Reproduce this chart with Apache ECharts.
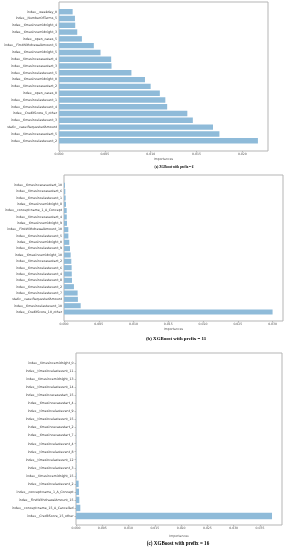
<!DOCTYPE html>
<html>
<head>
<meta charset="utf-8">
<script src="https://cdn.jsdelivr.net/npm/echarts@6/dist/echarts.min.js"></script>
<style>
html,body{margin:0;padding:0;background:#fff;}
#c{width:287px;height:550px;}
</style>
</head>
<body>
<div id="c"></div>
<script>
// ---------- DATA ----------
const labelsA = [
  'index__weekday_0','index__NumberOfTerms_5','index__timesincemidnight_4','index__timesincemidnight_3',
  'index__open_cases_5','index__FirstWithdrawalAmount_5','index__timesincemidnight_5','index__timesincecasestart_4',
  'index__timesincecasestart_3','index__timesincelastevent_5','index__timesincemidnight_0','index__timesincecasestart_2',
  'index__open_cases_0','index__timesincelastevent_1','index__timesincelastevent_4','index__CreditScore_5_other',
  'index__timesincelastevent_3','static__case:RequestedAmount','index__timesincecasestart_5','index__timesincelastevent_2'
];
const valuesA = [0.00149,0.00174,0.00177,0.00199,0.0025,0.0038,0.00453,0.00569,0.00573,0.0079,
  0.00938,0.0100,0.0110,0.0116,0.0118,0.0140,0.0146,0.0168,0.0175,0.0217];
const ticksA = [0,0.005,0.010,0.015,0.020];

const labelsB = [
  'index__timesincecasestart_10','index__timesincecasestart_6','index__timesincelastevent_1','index__timesincemidnight_8',
  'index__concept:name_1_A_Concept','index__timesincecasestart_4','index__timesincemidnight_9','index__FirstWithdrawalAmount_10',
  'index__timesincelastevent_5','index__timesincemidnight_0','index__timesincelastevent_9','index__timesincemidnight_10',
  'index__timesincecasestart_2','index__timesincelastevent_6','index__timesincelastevent_4','index__timesincelastevent_8',
  'index__timesincelastevent_2','index__timesincelastevent_7','static__case:RequestedAmount','index__timesincelastevent_10',
  'index__CreditScore_10_other'
];
const valuesB = [0.00014,0.00019,0.00024,0.00029,0.00039,0.0004,0.00043,0.00062,0.00063,0.00076,
  0.00086,0.00096,0.00105,0.0011,0.00112,0.00115,0.00143,0.00196,0.0020,0.0024,0.0300];
const ticksB = [0,0.005,0.010,0.015,0.020,0.025,0.030];

const labelsC = [
  'index__timesincemidnight_0','index__timesincelastevent_11','index__timesincemidnight_13','index__timesincelastevent_14',
  'index__timesincecasestart_15','index__timesincecasestart_4','index__timesincelastevent_9','index__timesincelastevent_15',
  'index__timesincecasestart_2','index__timesincecasestart_7','index__timesincelastevent_4','index__timesincelastevent_8',
  'index__timesincelastevent_12','index__timesincelastevent_3','index__timesincemidnight_15','index__timesincelastevent_2',
  'index__concept:name_1_A_Concept','index__FirstWithdrawalAmount_15','index__concept:name_15_A_Cancelled','index__CreditScore_15_other'
];
const valuesC = [0.00001,0.00001,0.00001,0.00002,0.00002,0.00002,0.00002,0.00003,0.00003,0.00003,
  0.00004,0.00004,0.00006,0.00006,0.0001,0.0005,0.00057,0.00063,0.00082,0.0373];
const ticksC = [0,0.005,0.010,0.015,0.020,0.025,0.030,0.035];

const titles = ['(a) XGBoost with prefix = 6','(b) XGBoost with prefix = 11','(c) XGBoost with prefix = 16'];

// ---------- LAYOUT ----------
const H = 550, W = 287;
const panels = [
  {labels:labelsA, values:valuesA, ticks:ticksA, max:0.0228,
   box:{top:2,bottom:151,left:59,right:268}, inner:{top:8.3,bottom:144.1},
   title:{x:174,y:168,size:3.3}, nameGap:6.5, yTicks:false},
  {labels:labelsB, values:valuesB, ticks:ticksB, max:0.0315,
   box:{top:175,bottom:321,left:64,right:283}, inner:{top:182.1,bottom:315.2},
   title:{x:176,y:339,size:4.9}, nameGap:7, yTicks:false},
  {labels:labelsC, values:valuesC, ticks:ticksC, max:0.0392,
   box:{top:353,bottom:525,left:76,right:282}, inner:{top:359.3,bottom:520},
   title:{x:178,y:544,size:5.1}, nameGap:10, yTicks:true}
];

const grid=[], xAxis=[], yAxis=[], series=[], title=[];
const barColor = '#8fbbd9', boxColor = '#b5b5b5', txt = '#333';
panels.forEach((p,i)=>{
  const g0 = grid.length;
  grid.push({left:p.box.left, right:W-p.box.right, top:p.box.top, bottom:H-p.box.bottom,
    show:true, borderColor:boxColor, borderWidth:1, backgroundColor:'transparent'});
  grid.push({left:p.box.left, right:W-p.box.right, top:p.inner.top, bottom:H-p.inner.bottom});
  xAxis.push({gridIndex:g0, type:'value', min:0, max:p.max,
    axisLine:{show:false}, splitLine:{show:false},
    axisTick:{show:true, length:1.5, lineStyle:{color:'#888', width:0.5}, customValues:p.ticks},
    axisLabel:{fontSize:3.1, color:'#555', margin:2, customValues:p.ticks,
      fontFamily:'DejaVu Sans', formatter:v=>v.toFixed(3)},
    name:'Importances', nameLocation:'middle', nameGap:p.nameGap,
    nameTextStyle:{fontSize:3.1, color:'#555', fontFamily:'DejaVu Sans'}});
  yAxis.push({gridIndex:g0, type:'value', show:false});
  xAxis.push({gridIndex:g0+1, type:'value', min:0, max:p.max, show:false});
  yAxis.push({gridIndex:g0+1, type:'category', inverse:true, data:p.labels,
    axisLine:{show:false},
    axisTick:{show:p.yTicks, length:1.5, alignWithLabel:true, lineStyle:{color:'#888', width:0.5}},
    axisLabel:{fontSize:3.2, color:txt, margin:p.yTicks?2.5:2, interval:0, fontFamily:'DejaVu Sans'}});
  series.push({type:'bar', xAxisIndex:g0+1, yAxisIndex:g0+1, data:p.values,
    barCategoryGap:'20%', itemStyle:{color:barColor}, silent:true, animation:false});
  title.push({text:titles[i], left:p.title.x, top:p.title.y - p.title.size*0.6, textAlign:'center', padding:0,
    textStyle:{fontSize:p.title.size, fontWeight:'bold', fontFamily:'Liberation Serif', color:'#000'}});
});

const chart = echarts.init(document.getElementById('c'), null, {renderer:'canvas'});
chart.setOption({animation:false, backgroundColor:'#fff', title, grid, xAxis, yAxis, series});
</script>
</body>
</html>
